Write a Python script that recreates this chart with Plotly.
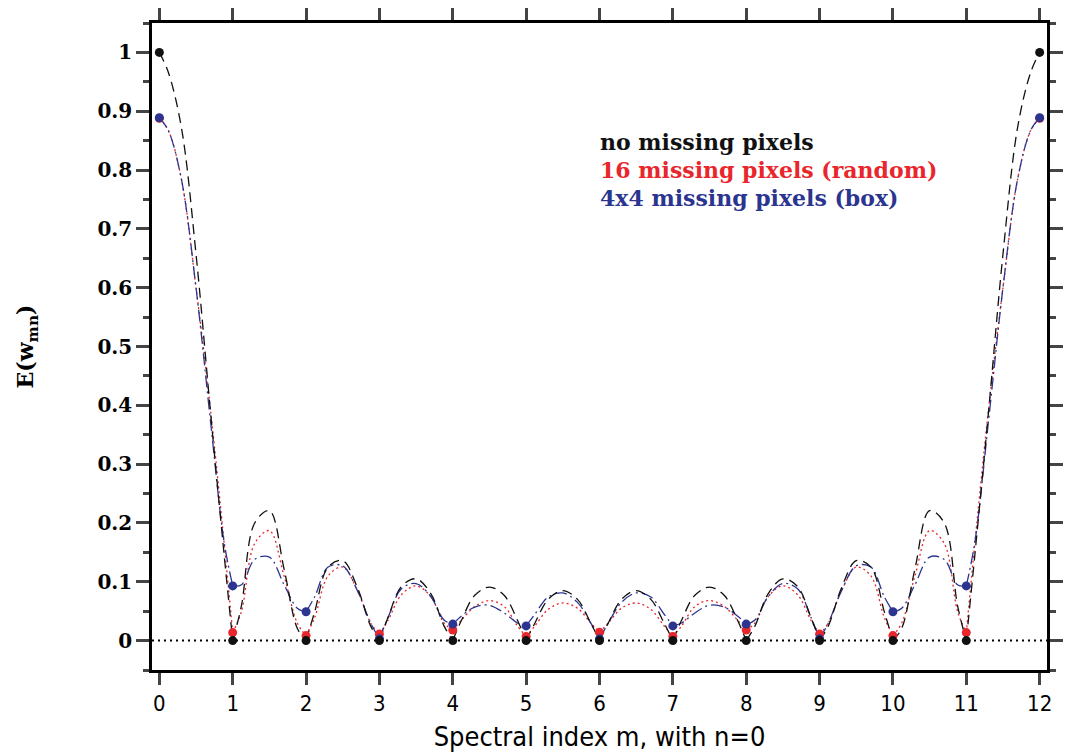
import plotly.graph_objects as go

# ---- data ----
m = list(range(13))
x_ticks = list(range(13))
y_ticks = [0, 0.1, 0.2, 0.3, 0.4, 0.5, 0.6, 0.7, 0.8, 0.9, 1.0]
y_ticktext = ["0", "0.1", "0.2", "0.3", "0.4", "0.5", "0.6", "0.7", "0.8", "0.9", "1"]

# values at integer spectral index m (markers)
e_none = [1.0, 0, 0, 0, 0, 0, 0, 0, 0, 0, 0, 0, 1.0]
e_random = [0.888, 0.0136, 0.0085, 0.011, 0.018, 0.007, 0.014, 0.007, 0.018, 0.011, 0.0085, 0.0136, 0.888]
e_box = [0.889, 0.093, 0.049, 0.003, 0.028, 0.025, 0.003, 0.025, 0.028, 0.003, 0.049, 0.093, 0.889]

# sample positions inside each interval [k, k+1]
arc_frac = [0.12, 0.3, 0.5, 0.7, 0.88]

# curve values read inside each interval (one row per interval k -> k+1)
arc_none = [
    [0.967, 0.873, 0.657, 0.385, 0.150],
    [0.060, 0.200, 0.221, 0.122, 0.021],
    [0.050, 0.125, 0.136, 0.090, 0.025],
    [0.040, 0.092, 0.105, 0.080, 0.025],
    [0.035, 0.077, 0.091, 0.077, 0.035],
    [0.030, 0.070, 0.085, 0.070, 0.030],
    [0.030, 0.070, 0.085, 0.070, 0.030],
    [0.035, 0.077, 0.091, 0.077, 0.035],
    [0.025, 0.080, 0.105, 0.092, 0.040],
    [0.025, 0.090, 0.136, 0.125, 0.050],
    [0.021, 0.122, 0.221, 0.200, 0.060],
    [0.150, 0.385, 0.657, 0.873, 0.967],
]
arc_random = [
    [0.868, 0.785, 0.600, 0.390, 0.170],
    [0.050, 0.165, 0.187, 0.110, 0.030],
    [0.040, 0.110, 0.125, 0.085, 0.030],
    [0.035, 0.078, 0.093, 0.075, 0.030],
    [0.035, 0.058, 0.068, 0.058, 0.025],
    [0.025, 0.053, 0.064, 0.055, 0.030],
    [0.030, 0.055, 0.064, 0.053, 0.025],
    [0.025, 0.058, 0.068, 0.058, 0.035],
    [0.030, 0.075, 0.093, 0.078, 0.035],
    [0.030, 0.085, 0.125, 0.110, 0.040],
    [0.030, 0.110, 0.187, 0.165, 0.050],
    [0.170, 0.390, 0.600, 0.785, 0.868],
]
arc_box = [
    [0.868, 0.785, 0.600, 0.370, 0.170],
    [0.095, 0.138, 0.142, 0.095, 0.055],
    [0.075, 0.125, 0.127, 0.085, 0.030],
    [0.040, 0.088, 0.097, 0.075, 0.035],
    [0.042, 0.057, 0.060, 0.047, 0.030],
    [0.045, 0.074, 0.081, 0.065, 0.030],
    [0.030, 0.065, 0.081, 0.074, 0.045],
    [0.030, 0.047, 0.060, 0.057, 0.042],
    [0.035, 0.075, 0.097, 0.088, 0.040],
    [0.030, 0.085, 0.127, 0.125, 0.075],
    [0.055, 0.095, 0.142, 0.138, 0.095],
    [0.170, 0.370, 0.600, 0.785, 0.868],
]

legend_labels = ["no missing pixels", "16 missing pixels (random)", "4x4 missing pixels (box)"]

BLACK = "#111111"
RED = "#e8262b"
BLUE = "#2b3590"
COND = "DejaVu Sans Condensed, Roboto Condensed, Liberation Sans Narrow, DejaVu Sans, sans-serif"


def build_curve(node_vals, arcs):
    xs, ys = [], []
    for k in range(len(arcs)):
        xs += [m[k]] + [m[k] + f for f in arc_frac] + [m[k + 1], None]
        ys += [node_vals[k]] + list(arcs[k]) + [node_vals[k + 1], None]
    return xs, ys


fig = go.Figure()

series = [
    (e_random, arc_random, RED, "2px,3px"),
    (e_box, arc_box, BLUE, "12px,4px,2px,4px"),
    (e_none, arc_none, BLACK, "10px,6px"),
]
for vals, arcs, col, dash in series:
    cx, cy = build_curve(vals, arcs)
    fig.add_trace(go.Scatter(x=cx, y=cy, mode="lines", line=dict(color=col, width=1.3, dash=dash, shape="spline", smoothing=1.0),
                             connectgaps=False, showlegend=False, hoverinfo="skip"))
for vals, arcs, col, dash in series:
    fig.add_trace(go.Scatter(x=m, y=vals, mode="markers", marker=dict(color=col, size=9), showlegend=False))

fig.add_hline(y=0, line=dict(color="black", width=2, dash="2px,4px"), layer="below")

leg_y = [0.816, 0.773, 0.730]
for txt, col, yy in zip(legend_labels, [BLACK, RED, BLUE], leg_y):
    fig.add_annotation(xref="paper", yref="paper", x=(606 - 152) / 911, y=yy, xanchor="left", yanchor="middle",
                       text=txt, showarrow=False, font=dict(family="DejaVu Serif", size=22, color=col, weight="bold"))

fig.update_layout(
    width=1071, height=755,
    margin=dict(l=152, r=8, t=23, b=85),
    paper_bgcolor="white", plot_bgcolor="white",
    xaxis=dict(range=[-0.1, 12.1], tickvals=x_ticks, ticks="outside", ticklen=12, tickwidth=2.5,
               showline=True, linewidth=2.5, linecolor="black", mirror="ticks", showgrid=False, zeroline=False,
               tickfont=dict(family=COND, size=22, color="black"),
               title=dict(text="Spectral index m, with n=0", standoff=12,
                          font=dict(family=COND, size=27, color="black"))),
    yaxis=dict(range=[-0.05, 1.05], tickvals=y_ticks, ticktext=y_ticktext, ticks="outside", ticklen=13, tickwidth=2.5,
               showline=True, linewidth=2.5, linecolor="black", mirror="ticks", showgrid=False, zeroline=False,
               minor=dict(dtick=0.05, ticks="outside", ticklen=6, tickwidth=2.5, showgrid=False),
               tickfont=dict(family="DejaVu Serif", size=20, color="black", weight="bold"),
               title=dict(text="E(w<sub>mn</sub>)", standoff=58,
                          font=dict(family="DejaVu Serif", size=22, color="black", weight="bold"))),
)

fig.write_html("out.html", config={"displayModeBar": False},
               post_script="document.body.style.margin='0';document.body.style.overflow='hidden';")
